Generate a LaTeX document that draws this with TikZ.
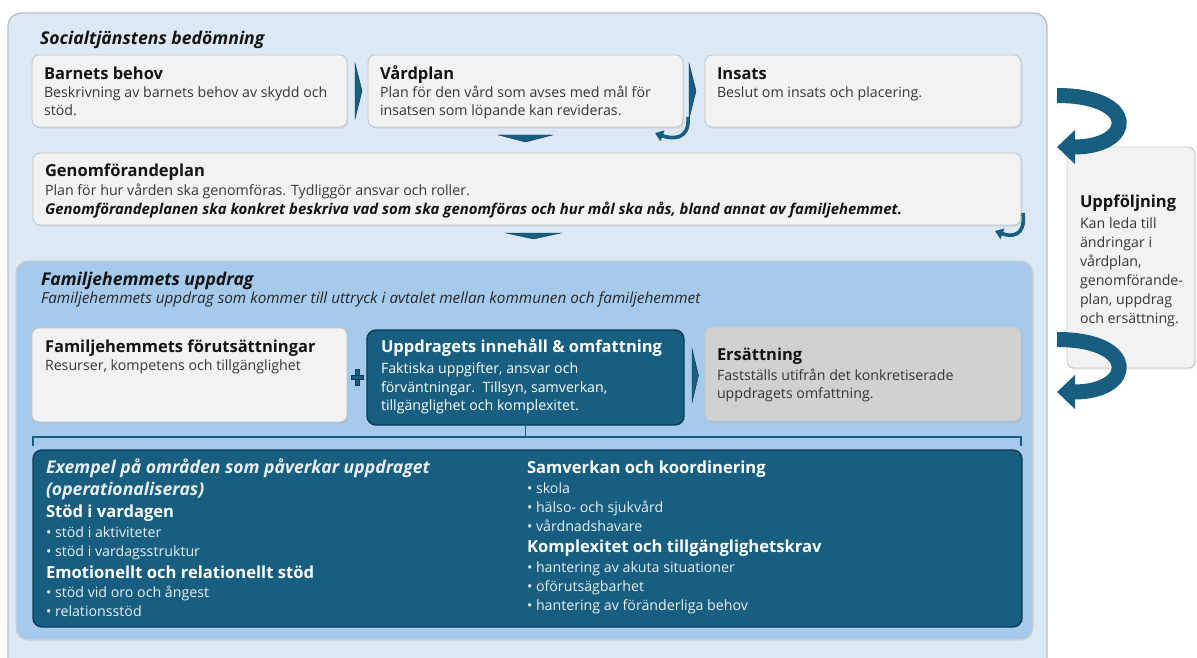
\documentclass[tikz,border=0pt]{standalone}
\usepackage{fontspec}
\setmainfont{Open Sans}
\usetikzlibrary{calc,arrows.meta,shadows}

\definecolor{paleblue}{HTML}{DCE9F5}
\definecolor{midblue}{HTML}{A6CAEC}
\definecolor{deepteal}{HTML}{175E80}
\definecolor{deepedge}{HTML}{0E3A50}
\definecolor{cardfill}{HTML}{F2F2F2}
\definecolor{cardedge}{HTML}{C6C6C6}
\definecolor{greyfill}{HTML}{D1D1D1}
\definecolor{bodygrey}{HTML}{363636}
\definecolor{bulletwhite}{HTML}{E9EFF3}

\newcommand{\fsz}[2]{\fontsize{#1}{#2}\selectfont}
% panel: name, style, left, top, right, bottom (y grows downwards)
\newcommand{\panel}[6]{\node[#2, anchor=north west, minimum width={#5-#3}, minimum height={#6-#4}] (#1) at (#3,#4) {};}

\tikzset{
  basebox/.style={inner sep=0, outer sep=0},
  outerbox/.style={basebox, draw=black!25, fill=paleblue, line width=1.3, rounded corners=13},
  midbox/.style={basebox, draw=black!18, fill=midblue, line width=1.2, rounded corners=12},
  card/.style={basebox, draw=cardedge, fill=cardfill, line width=0.9, rounded corners=7,
    drop shadow={shadow xshift=1.2pt, shadow yshift=-1.6pt, opacity=0.18}},
  greybox/.style={card, fill=greyfill},
  darkbox/.style={basebox, draw=deepedge, fill=deepteal, line width=1.4, rounded corners=9},
  txt/.style={anchor=base west, inner sep=0, outer sep=0},
  head/.style={txt, font=\fsz{16.5}{20}\bfseries, text=black!92},
  body/.style={txt, font=\fsz{14.2}{17}, text=bodygrey},
  title/.style={txt, font=\fsz{17.6}{20}\bfseries\itshape, text=black!92},
  whead/.style={head, text=white},
  wbody/.style={body, text=bulletwhite},
  chev/.style={fill=deepteal, draw=deepedge, line width=0.4},
  curl/.style={draw=deepteal, line width=3.6, -{Triangle[length=8pt,width=11pt]}},
  bigcurl/.style={draw=deepteal, line width=15, -{Triangle[length=18pt,width=33pt]}},
}

\begin{document}
\begin{tikzpicture}[x=1pt,y=-1pt]
\useasboundingbox (0,0) rectangle (1197,658);

% ---- assessment frame ----
\panel{outer}{outerbox}{8}{13}{1047}{720}
\node[title] (socTitle) at (40,45) {Socialtjänstens bedömning};

\panel{barn}{card}{32}{55}{347}{127}
\panel{vard}{card}{368}{55}{683}{127}
\panel{insats}{card}{705}{55}{1021}{127}
\panel{genom}{card}{33}{153}{1021}{225}

\node[head] (barnH) at (44,80) {Barnets behov};
\node[body] (barnA) at (44,98) {Beskrivning av barnets behov av skydd och};
\node[body] (barnB) at (44,115.5) {stöd.};

\node[head] (vardH) at (380,80) {Vårdplan};
\node[body] (vardA) at (380,98) {Plan för den vård som avses med mål för};
\node[body] (vardB) at (380,115.5) {insatsen som löpande kan revideras.};

\node[head] (insH) at (717,80) {Insats};
\node[body] (insA) at (717,98) {Beslut om insats och placering.};

\node[head] (genH) at (45,176) {Genomförandeplan};
\node[body] (genA) at (45,195) {Plan för hur vården ska genomföras. Tydliggör ansvar och roller.};
\node[body, font=\fsz{14.9}{17}\bfseries\itshape, text=black!92] (genB) at (45,214)
  {Genomförandeplanen ska konkret beskriva vad som ska genomföras och hur mål ska nås, bland annat av familjehemmet.};

% chevrons between the assessment steps
\fill[chev] ($(barn.east)+(8,-28)$) -- ($(barn.east)+(15,0)$) -- ($(barn.east)+(8,28)$) -- cycle;
\fill[chev] ($(vard.east)+(6,-28)$) -- ($(vard.east)+(13,0)$) -- ($(vard.east)+(6,28)$) -- cycle;
\fill[chev] ($(vard.south)+(-27,8)$) -- ($(vard.south)+(27,8)$) -- ($(vard.south)+(0,15)$) -- cycle;
\fill[chev] ($(genom.south)+(-21,8)$) -- ($(genom.south)+(34,8)$) -- ($(genom.south)+(6.5,14)$) -- cycle;

% small revision curls
\draw[curl] ($(vard.south east)+(5,-10)$) .. controls +(2,24) and +(16,6) .. ($(vard.south east)+(-28,6)$);
\draw[curl] ($(genom.south east)+(2,-12)$) .. controls +(3,24) and +(16,6) .. ($(genom.south east)+(-26,6)$);

% ---- family home assignment ----
\panel{fam}{midbox}{16}{261}{1033}{640}
\node[title] (famTitle) at (41,285) {Familjehemmets uppdrag};
\node[txt, font=\fsz{15.3}{17}\itshape, text=black!85] (famSub) at (41,303)
  {Familjehemmets uppdrag som kommer till uttryck i avtalet mellan kommunen och familjehemmet};

\panel{forut}{card}{32}{328}{347}{422}
\panel{upp}{darkbox}{367}{330}{684}{425}
\panel{ers}{greybox}{705}{327}{1021}{421}

\node[head] (forH) at (45,352) {Familjehemmets förutsättningar};
\node[body] (forA) at (45,370) {Resurser, kompetens och tillgänglighet};

\node[whead] (uppH) at (381,352) {Uppdragets innehåll \& omfattning};
\node[wbody, text=white] (uppA) at (381,373) {Faktiska uppgifter, ansvar och};
\node[wbody, text=white] (uppB) at (381,392) {förväntningar.\ \ Tillsyn, samverkan,};
\node[wbody, text=white] (uppC) at (381,410) {tillgänglighet och komplexitet.};

\node[head] (ersH) at (717,360) {Ersättning};
\node[body] (ersA) at (717,380) {Fastställs utifrån det konkretiserade};
\node[body] (ersB) at (717,398) {uppdragets omfattning.};

% plus sign between conditions and contents
\coordinate (plusC) at ($(forut.east)!0.5!(upp.west)+(0,1)$);
\fill[chev] ($(plusC)+(-1.8,-8)$) rectangle ($(plusC)+(1.8,8)$);
\fill[chev] ($(plusC)+(-6,-1.8)$) rectangle ($(plusC)+(6,1.8)$);

% chevron to compensation
\fill[chev] ($(upp.east)+(8,-29)$) -- ($(upp.east)+(14.5,-2)$) -- ($(upp.east)+(8,25)$) -- cycle;

% bracket gathering the examples
\coordinate (brL) at (33,446);
\coordinate (brR) at (1021,446);
\draw[draw=deepteal, line width=1.4] (brL) -- ++(0,-9) -| (brR);
\draw[draw=deepteal, line width=1.4] (upp.south) -- ($(upp.south)+(0,12)$);

% ---- examples ----
\panel{ex}{darkbox}{33}{450}{1022}{627}
\tikzset{exhead/.style={whead, font=\fsz{16.6}{20}\bfseries}, exitem/.style={wbody, font=\fsz{14.2}{17}},
  exnote/.style={title, text=bulletwhite}}
\node[exnote] (exA) at (46,473) {Exempel på områden som påverkar uppdraget};
\node[exnote] (exB) at (46,495) {(operationaliseras)};
\node[exhead] (exC) at (46,517) {Stöd i vardagen};
\node[exitem] (exD) at (46,537) {• stöd i aktiviteter};
\node[exitem] (exE) at (46,556) {• stöd i vardagsstruktur};
\node[exhead] (exF) at (46,578) {Emotionellt och relationellt stöd};
\node[exitem] (exG) at (46,597) {• stöd vid oro och ångest};
\node[exitem] (exH) at (46,616) {• relationsstöd};

\node[exhead] (exI) at (527,473) {Samverkan och koordinering};
\node[exitem] (exJ) at (527,493) {• skola};
\node[exitem] (exK) at (527,512) {• hälso- och sjukvård};
\node[exitem] (exL) at (527,531) {• vårdnadshavare};
\node[exhead] (exM) at (527,552) {Komplexitet och tillgänglighetskrav};
\node[exitem] (exN) at (527,572) {• hantering av akuta situationer};
\node[exitem] (exO) at (527,591) {• oförutsägbarhet};
\node[exitem] (exP) at (527,610) {• hantering av föränderliga behov};

% ---- follow-up ----
\panel{uppf}{card}{1067}{147}{1195}{368}
\node[head] (ufH) at (1080,207) {Uppföljning};
\node[body] (ufA) at (1080,228) {Kan leda till};
\node[body] (ufB) at (1080,247) {ändringar i};
\node[body] (ufC) at (1080,266) {vårdplan,};
\node[body] (ufD) at (1080,285) {genomförande-};
\node[body] (ufE) at (1080,304) {plan, uppdrag};
\node[body] (ufF) at (1080,323) {och ersättning.};

\coordinate (loopTopIn) at (1057,95.5);
\coordinate (loopTopOut) at (1057,147);
\coordinate (loopLowIn) at (1057,339.5);
\coordinate (loopLowOut) at (1057,392);
\draw[bigcurl] (loopTopIn) .. controls +(82,0) and +(78,0) .. (loopTopOut);
\draw[bigcurl] (loopLowIn) .. controls +(82,0) and +(78,0) .. (loopLowOut);
\end{tikzpicture}
\end{document}
